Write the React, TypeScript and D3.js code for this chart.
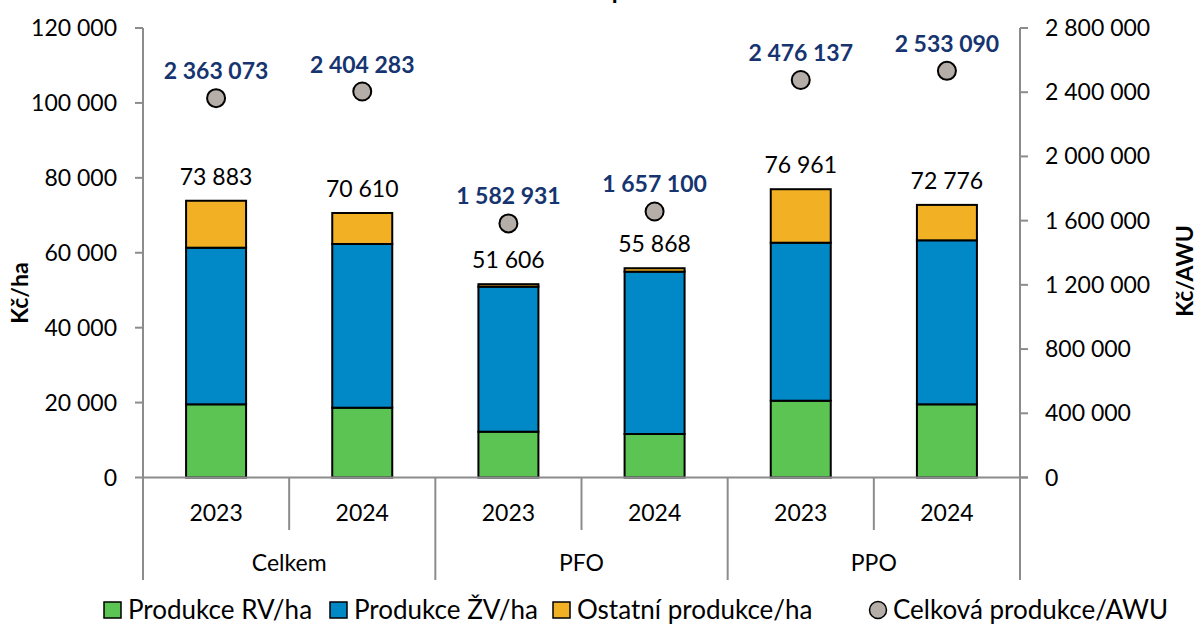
import React from "react";
import * as d3 from "d3";

const groups = ["Celkem", "PFO", "PPO"];
const years = ["2023", "2024"];
const categories = ["Celkem-2023", "Celkem-2024", "PFO-2023", "PFO-2024", "PPO-2023", "PPO-2024"];
const rvPerHa = [19540, 18630, 12230, 11610, 20500, 19540];
const zvPerHa = [41810, 43710, 38710, 43340, 42180, 43780];
const otherPerHa = [12533, 8270, 666, 918, 14281, 9456];
const totalPerHa = [73883, 70610, 51606, 55868, 76961, 72776];
const totalPerAwu = [2363073, 2404283, 1582931, 1657100, 2476137, 2533090];
const leftTicks = [0, 20000, 40000, 60000, 80000, 100000, 120000];
const rightTicks = [0, 400000, 800000, 1200000, 1600000, 2000000, 2400000, 2800000];
const seriesNames = ["Produkce RV/ha", "Produkce ŽV/ha", "Ostatní produkce/ha"];
const seriesColors = ["#5BC453", "#0088C7", "#F2B124"];

const W = 1199;
const H = 626;
const FONT = "Lato, 'Open Sans', sans-serif";

const fmt = (v: number) => d3.format(",")(v).replace(/,/g, " ");

export default function App() {
  const left = 143;
  const right = 1020;
  const top = 28;
  const bottom = 477.5;

  const x = d3.scaleBand<string>().domain(categories).range([left, right]).paddingInner(0).paddingOuter(0);
  const bw = 60;
  const yL = d3.scaleLinear().domain([0, 120000]).range([bottom, top]);
  const yR = d3.scaleLinear().domain([0, 2800000]).range([bottom, top]);

  const stackData = categories.map((c, i) => ({ cat: c, rv: rvPerHa[i], zv: zvPerHa[i], ot: otherPerHa[i] }));
  const stacked = d3.stack<any>().keys(["rv", "zv", "ot"])(stackData);

  const axisColor = "#8C8C8C";
  const step = x.step();
  const legY = 610;

  return (
    <svg width={W} height={H} style={{ position: "absolute", left: 0, top: 0, background: "#fff" }} fontFamily={FONT}>
      <text x={565} y={-1} textAnchor="middle" fontSize={24} fontWeight="bold" fill="#000">
        Struktura celkové produkce
      </text>

      {/* left axis */}
      <line x1={left} x2={left} y1={top} y2={bottom} stroke={axisColor} strokeWidth={2} />
      {leftTicks.map((t) => (
        <g key={"l" + t}>
          <line x1={left - 8} x2={left} y1={yL(t)} y2={yL(t)} stroke={axisColor} strokeWidth={2} />
          <text x={117} y={yL(t)} dy="0.35em" textAnchor="end" fontSize={23} fill="#000">
            {fmt(t)}
          </text>
        </g>
      ))}
      <text transform={`translate(28,293) rotate(-90)`} textAnchor="middle" fontSize={23} fontWeight="bold" fill="#000">
        Kč/ha
      </text>

      {/* right axis */}
      <line x1={right} x2={right} y1={top} y2={bottom} stroke={axisColor} strokeWidth={2} />
      {rightTicks.map((t) => (
        <g key={"r" + t}>
          <line x1={right} x2={right + 8} y1={yR(t)} y2={yR(t)} stroke={axisColor} strokeWidth={2} />
          <text x={1045} y={yR(t)} dy="0.35em" textAnchor="start" fontSize={23} fill="#000">
            {fmt(t)}
          </text>
        </g>
      ))}
      <text transform={`translate(1193,271) rotate(-90)`} textAnchor="middle" fontSize={23} fontWeight="bold" fill="#000">
        Kč/AWU
      </text>

      {/* bars */}
      {stacked.map((s, si) =>
        s.map((d, i) => (
          <rect
            key={si + "-" + i}
            x={(x(categories[i]) as number) + step / 2 - bw / 2}
            y={yL(d[1])}
            width={bw}
            height={yL(d[0]) - yL(d[1])}
            fill={seriesColors[si]}
            stroke="#000"
            strokeWidth={2}
          />
        ))
      )}

      {/* category axis */}
      <line x1={left} x2={right + 8} y1={bottom} y2={bottom} stroke={axisColor} strokeWidth={2} />
      {categories.map((c, i) => {
        const xs = (x(c) as number) + step;
        const isGroupEnd = i % 2 === 1;
        return (
          <line key={"sep" + i} x1={xs} x2={xs} y1={bottom} y2={isGroupEnd ? 580 : 530} stroke={axisColor} strokeWidth={2} />
        );
      })}
      <line x1={left} x2={left} y1={bottom} y2={580} stroke={axisColor} strokeWidth={2} />
      {categories.map((c, i) => (
        <text key={"yr" + i} x={(x(c) as number) + step / 2} y={513} dy="0.35em" textAnchor="middle" fontSize={23} fill="#000">
          {years[i % 2]}
        </text>
      ))}
      {groups.map((g, gi) => (
        <text key={"g" + g} x={(x(categories[gi * 2]) as number) + step} y={563} dy="0.35em" textAnchor="middle" fontSize={23} fill="#000">
          {g}
        </text>
      ))}

      {/* total labels */}
      {categories.map((c, i) => (
        <text key={"tot" + i} x={(x(c) as number) + step / 2} y={yL(totalPerHa[i]) - 16} textAnchor="middle" fontSize={23} fill="#000">
          {fmt(totalPerHa[i])}
        </text>
      ))}

      {/* AWU points */}
      {categories.map((c, i) => (
        <g key={"awu" + i}>
          <circle cx={(x(c) as number) + step / 2} cy={yR(totalPerAwu[i])} r={9} fill="#B5ADA7" stroke="#000" strokeWidth={2} />
          <text x={(x(c) as number) + step / 2} y={yR(totalPerAwu[i]) - 19} textAnchor="middle" fontSize={23} fontWeight="bold" fill="#163570">
            {fmt(totalPerAwu[i])}
          </text>
        </g>
      ))}

      {/* legend */}
      {seriesNames.map((n, i) => {
        const lx = [104, 330, 553][i];
        return (
          <g key={"leg" + i}>
            <rect x={lx} y={legY - 8} width={17} height={16} fill={seriesColors[i]} stroke="#000" strokeWidth={1.5} />
            <text x={lx + 24} y={legY} dy="0.35em" fontSize={26} fill="#000">
              {n}
            </text>
          </g>
        );
      })}
      <circle cx={878} cy={legY} r={8.5} fill="#B5ADA7" stroke="#000" strokeWidth={1.5} />
      <text x={893} y={legY} dy="0.35em" fontSize={26} fill="#000">
        Celková produkce/AWU
      </text>
    </svg>
  );
}
